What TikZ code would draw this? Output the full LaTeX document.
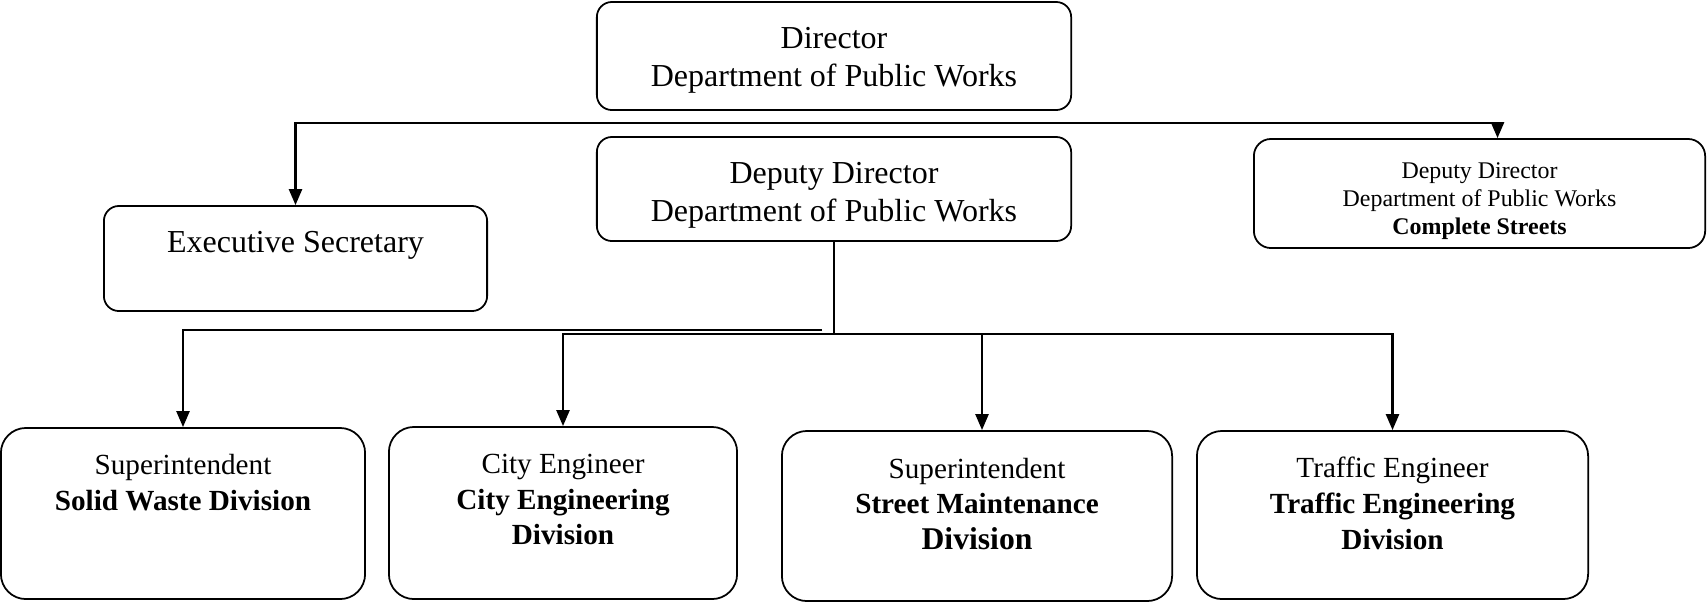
\documentclass[tikz,border=0pt]{standalone}
\usepackage{fontspec}
\setmainfont{Liberation Serif}
\usetikzlibrary{arrows.meta, calc}
\tikzset{unit/.style={draw, line width=0.5pt, rounded corners=0.15cm, inner sep=0pt}}
\tikzset{division/.style={unit, rounded corners=0.25cm}}
\tikzset{bigtext/.style={align=center, inner sep=0pt, font=\fontsize{9.1}{10.8}\selectfont}}
\tikzset{smalltext/.style={align=center, inner sep=0pt, font=\fontsize{6.8}{7.9}\selectfont}}
\tikzset{divtext/.style={align=center, inner sep=0pt, font=\fontsize{8.3}{10.2}\selectfont}}
\tikzset{link/.style={line width=0.7pt, -{Triangle[length=1.6mm, width=1.3mm]}}}

\begin{document}
\begin{tikzpicture}[x=0.01cm, y=-0.01cm]
                \useasboundingbox (0, 0) rectangle (1707, 602);

                % top level
                \node[unit, minimum width=4.74cm, minimum height=1.08cm] (dir) at (834, 56) {};
                \node[bigtext] (dirtext) at (834, 60) {Director\\Department of Public Works};
                \node[unit, minimum width=4.74cm, minimum height=1.04cm] (dep) at (834, 189) {};
                \node[bigtext] (deptext) at (834, 195) {Deputy Director\\Department of Public Works};
                \node[unit, minimum width=3.83cm, minimum height=1.05cm] (exec) at (295.5, 258.5) {};
                \node[bigtext] (exectext) at (295.5, 245) {Executive Secretary};
                \node[unit, rounded corners=0.17cm, minimum width=4.51cm, minimum height=1.09cm] (cs) at (1479.5, 193.5) {};
                \node[smalltext] (cstext) at (1479.5, 201) {Deputy Director\\Department of Public Works\\\textbf{Complete Streets}};

                % divisions
                \node[division, minimum width=3.64cm, minimum height=1.71cm] (sw) at (183, 513.5) {};
                \node[divtext] (swtext) at (183, 483) {Superintendent\\\textbf{Solid Waste Division}};
                \node[division, minimum width=3.48cm, minimum height=1.72cm] (ce) at (563, 513) {};
                \node[divtext] (cetext) at (563, 499.5) {City Engineer\\\textbf{City Engineering}\\\textbf{Division}};
                \node[division, minimum width=3.90cm, minimum height=1.70cm] (sm) at (977, 516) {};
                \node[divtext] (smtext) at (977, 504) {Superintendent\\\textbf{Street Maintenance}\\\textbf{\fontsize{9}{10.2}\selectfont Division}};
                \node[division, minimum width=3.91cm, minimum height=1.68cm] (te) at (1392.5, 515) {};
                \node[divtext] (tetext) at (1392.5, 503) {Traffic Engineer\\\textbf{Traffic Engineering}\\\textbf{Division}};

                % connectors
                \coordinate (topjoin) at (820, 123);
                \draw[link] (topjoin) -| (exec.north);
                \draw[link] (topjoin) -| ([xshift=0.18cm]cs.north);

                \coordinate (lowjoin) at (834, 334);
                \coordinate (lowleft) at (822, 330);
                \draw[line width=0.7pt] (dep.south) -- (lowjoin);
                \draw[link] (lowleft) -| (sw.north);
                \draw[link] (lowjoin) -| (ce.north);
                \draw[link] (lowjoin) -| ([xshift=0.05cm]sm.north);
                \draw[link] (lowjoin) -| (te.north);
            \end{tikzpicture}
\end{document}
